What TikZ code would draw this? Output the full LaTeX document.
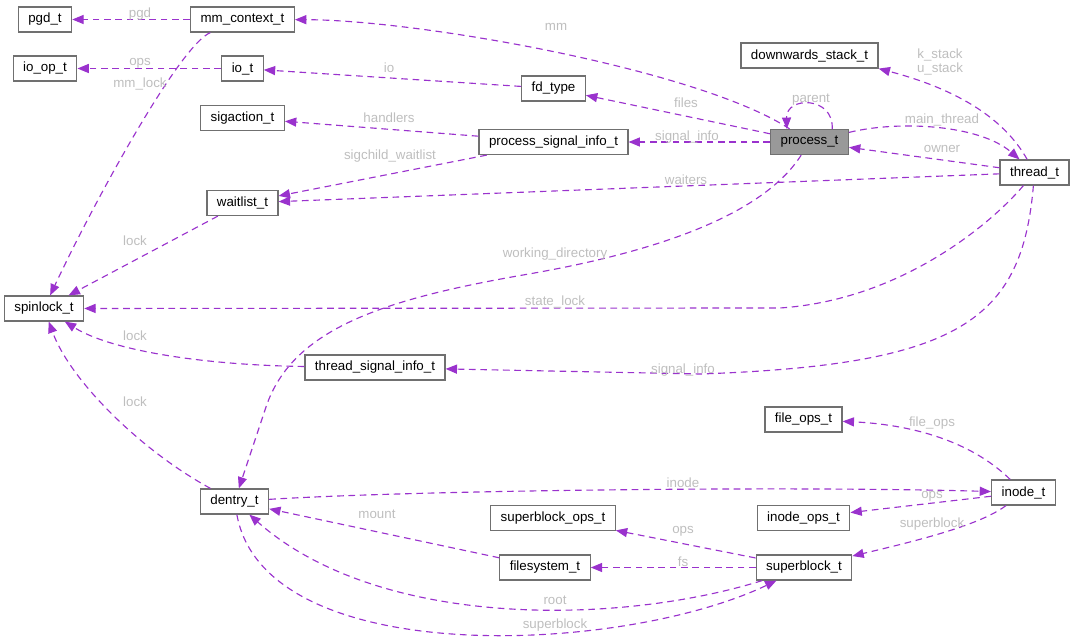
\documentclass[tikz,border=0pt]{standalone}
\usepackage{fontspec}
\setmainfont{Liberation Sans}
\usetikzlibrary{arrows.meta}
\definecolor{edgecol}{HTML}{9A32CD}
\definecolor{lblcol}{HTML}{BEBEBE}
\definecolor{boxcol}{HTML}{707070}
\definecolor{curfill}{HTML}{999999}
\tikzset{>={Triangle[length=8.5pt,width=6.8pt]}}
\tikzset{cls/.style={draw=boxcol, line width=0.9pt, fill=white, minimum height=18.75pt, inner xsep=7.5pt, inner ysep=2pt, font=\fontsize{10}{12}\selectfont}}
\tikzset{lbl/.style={text=lblcol, inner sep=0pt, align=center, font=\fontsize{10}{10.5}\selectfont}}
\tikzset{uses/.style={->, draw=edgecol, line width=0.85pt, dash pattern=on 5pt off 3.5pt}}

\begin{document}
\begin{tikzpicture}[x=0.75pt, y=-0.75pt]
    \useasboundingbox (0,0) rectangle (1075,642);

    \node[cls] (pgd) at (45,19.5) {pgd\_t};
    \node[cls] (mmctx) at (242.5,19.5) {mm\_context\_t};
    \node[cls] (ioop) at (45,68.5) {io\_op\_t};
    \node[cls] (io) at (242.5,68.5) {io\_t};
    \node[cls] (sigact) at (242.5,118) {sigaction\_t};
    \node[cls] (waitl) at (242.5,203) {waitlist\_t};
    \node[cls] (fdtype) at (553.5,88.5) {fd\_type};
    \node[cls] (psig) at (553.5,142) {process\_signal\_info\_t};
    \node[cls] (dstack) at (809.5,55.5) {downwards\_stack\_t};
    \node[cls, fill=curfill] (proc) at (809.5,142) {process\_t};
    \node[cls] (thread) at (1034.5,172.5) {thread\_t};
    \node[cls] (spin) at (44,308.5) {spinlock\_t};
    \node[cls] (tsig) at (375,367.5) {thread\_signal\_info\_t};
    \node[cls] (dentry) at (234.5,501.5) {dentry\_t};
    \node[cls] (sbops) at (553,518) {superblock\_ops\_t};
    \node[cls] (fsys) at (545,567.5) {filesystem\_t};
    \node[cls] (fops) at (803.5,419.5) {file\_ops\_t};
    \node[cls] (inode) at (1023.5,492.5) {inode\_t};
    \node[cls] (iops) at (803.5,518) {inode\_ops\_t};
    \node[cls] (sblock) at (804,567.5) {superblock\_t};

    \draw[uses] (mmctx) -- (pgd) node[lbl] (lpgd) at (140,14) {pgd};
    \draw[uses] (io) -- (ioop) node[lbl] (liops) at (140,63) {ops};
    \draw[uses] (mmctx) .. controls (180,45) and (95,200) .. (spin)
        node[lbl] (lmmlock) at (140,84) {mm\_lock};
    \draw[uses] (fdtype) -- (io) node[lbl] (lio) at (389,68) {io};
    \draw[uses] (proc) .. controls (700,70) and (420,20) .. (mmctx)
        node[lbl] (lmm) at (556,27) {mm};
    \draw[uses] (proc) -- (fdtype) node[lbl] (lfiles) at (686,103) {files};
    \draw[uses] (proc) -- (psig) node[lbl] (lpsig) at (687,137) {signal\_info};
    \draw[uses] (psig) -- (sigact) node[lbl] (lhand) at (389,118) {handlers};
    \draw[uses] (psig) -- (waitl) node[lbl] (lchild) at (390,156) {sigchild\_waitlist};
    \draw[uses] (thread) -- (waitl) node[lbl] (lwait) at (686,180) {waiters};
    \draw[uses] (proc.30) .. controls (834,96) and (786,96) .. (proc.150)
        node[lbl] (lparent) at (811,100) {parent};
    \draw[uses] (proc) .. controls (900,120) and (980,125) .. (thread)
        node[lbl] (lmain) at (942,120) {main\_thread};
    \draw[uses] (thread) -- (proc) node[lbl] (lowner) at (942,149) {owner};
    \draw[uses] (thread) .. controls (1005,120) and (960,90) .. (dstack.south east)
        node[lbl] (lstack) at (940,62) {k\_stack\\u\_stack};
    \draw[uses] (thread) .. controls (990,225) and (900,300) .. (780,308) -- (spin)
        node[lbl] (lstate) at (555,302) {state\_lock};
    \draw[uses] (thread) .. controls (1022,320) and (960,365) .. (700,374) -- (tsig)
        node[lbl] (ltsig) at (683,370) {signal\_info};
    \draw[uses] (waitl) -- (spin) node[lbl] (llock1) at (135,241) {lock};
    \draw[uses] (tsig) .. controls (200,365) and (110,350) .. (spin)
        node[lbl] (llock2) at (135,336) {lock};
    \draw[uses] (dentry) .. controls (140,450) and (70,380) .. (spin)
        node[lbl] (llock3) at (135,402) {lock};
    \draw[uses] (proc) .. controls (760,220) and (640,255) .. (523,275)
        .. controls (380,300) and (290,330) .. (265,410) -- (dentry)
        node[lbl] (lwd) at (555,254) {working\_directory};
    \draw[uses] (dentry) .. controls (420,490) and (800,486) .. (inode)
        node[lbl] (linode) at (683,483) {inode};
    \draw[uses] (inode) .. controls (975,445) and (920,425) .. (fops)
        node[lbl] (lfops) at (932,423) {file\_ops};
    \draw[uses] (inode) -- (iops) node[lbl] (linops) at (932,496) {ops};
    \draw[uses] (inode) .. controls (980,525) and (920,540) .. (sblock)
        node[lbl] (lsb1) at (932,524) {superblock};
    \draw[uses] (sblock) -- (sbops) node[lbl] (lsbops) at (683,531) {ops};
    \draw[uses] (sblock) -- (fsys) node[lbl] (lfs) at (683,562) {fs};
    \draw[uses] (fsys) -- (dentry) node[lbl] (lmount) at (377,514) {mount};
    \draw[uses] (sblock) .. controls (620,625) and (380,630) .. (dentry)
        node[lbl] (lroot) at (555,600) {root};
    \draw[uses] (dentry) .. controls (265,670) and (620,655) .. (sblock)
        node[lbl] (lsb2) at (555,625) {superblock};
\end{tikzpicture}
\end{document}
